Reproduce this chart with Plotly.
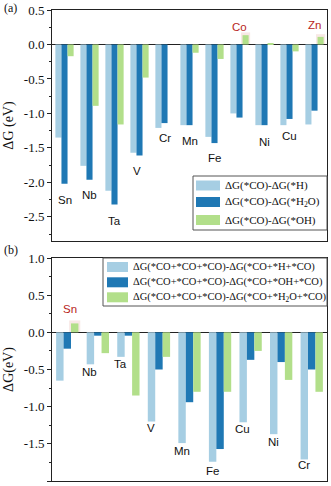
import plotly.graph_objects as go
from plotly.subplots import make_subplots

# ---- panel (a): dG(*CO) differences
metals_a = ["Sn", "Nb", "Ta", "V", "Cr", "Mn", "Fe", "Co", "Ni", "Cu", "Zn"]
dg_h_a = [-1.35, -1.76, -2.12, -1.57, -1.21, -1.17, -1.34, -1.00, -1.17, -1.17, -1.16]
dg_h2o_a = [-2.02, -1.96, -2.32, -1.61, -1.14, -1.17, -1.43, -1.06, -1.17, -1.08, -0.96]
dg_oh_a = [-0.17, -0.89, -1.16, -0.48, 0.0, -0.12, -0.21, 0.135, 0.02, -0.10, 0.11]
names_a = ["ΔG(*CO)-ΔG(*H)", "ΔG(*CO)-ΔG(*H<sub>2</sub>O)", "ΔG(*CO)-ΔG(*OH)"]
yticks_a = [0.5, 0.0, -0.5, -1.0, -1.5, -2.0, -2.5]

# ---- panel (b): dG(*CO+*CO+*CO) differences
metals_b = ["Sn", "Nb", "Ta", "V", "Mn", "Fe", "Cu", "Ni", "Cr"]
dg_h_b = [-0.65, -0.43, -0.33, -1.20, -1.49, -1.74, -1.21, -1.37, -1.71]
dg_oh_b = [-0.22, -0.045, -0.045, -0.50, -0.94, -1.57, -0.37, -0.40, -0.50]
dg_h2o_b = [0.12, -0.28, -0.85, -0.33, -0.80, -0.80, -0.25, -0.64, -0.80]
names_b = ["ΔG(*CO+*CO+*CO)-ΔG(*CO+*H+*CO)",
           "ΔG(*CO+*CO+*CO)-ΔG(*CO+*OH+*CO)",
           "ΔG(*CO+*CO+*CO)-ΔG(*CO+*H<sub>2</sub>O+*CO)"]
yticks_b = [1.0, 0.5, 0.0, -0.5, -1.0, -1.5, -2.0]

# label placement (y in data units, x shift in px)
label_y_a = [-2.26, -2.19, -2.56, -1.83, -1.36, -1.40, -1.65, 0.26, -1.41, -1.32, 0.28]
label_dx_a = [0, 0, 0, -3, 0, 0, 0, 0, 0, 0, 0]
label_y_b = [0.31, -0.53, -0.42, -1.29, -1.59, -1.86, -1.30, -1.47, -1.78]
label_dx_b = [3, -8, -8, -8, -8, -8, -8, -8, -8]
red_a = {"Co", "Zn"}
red_b = {"Sn"}

colors = ["#a6cee3", "#1f78b4", "#b2df8a"]
RED = "#b8261c"
SERIF = "Liberation Serif, Times New Roman, serif"
SANS = "Liberation Sans, Arial, sans-serif"

W, H = 331, 486
L, R, T, B = 52, 4, 10, 5
BARGAP = 0.27


def px(x):
    return (x - L) / (W - L - R)


def py(y):
    return (H - B - y) / (H - T - B)


fig = make_subplots(rows=2, cols=1)

for vals, name, col in zip([dg_h_a, dg_h2o_a, dg_oh_a], names_a, colors):
    fig.add_trace(go.Bar(x=metals_a, y=vals, name=name, marker_color=col,
                         marker_line_width=0, showlegend=False), row=1, col=1)
for vals, name, col in zip([dg_h_b, dg_oh_b, dg_h2o_b], names_b, colors):
    fig.add_trace(go.Bar(x=metals_b, y=vals, name=name, marker_color=col,
                         marker_line_width=0, showlegend=False), row=2, col=1)

# faint highlight behind the positive green bars
bw = (1 - BARGAP) / 3
shapes = []
for xr, yr, vals in [("x", "y", dg_oh_a), ("x2", "y2", dg_h2o_b)]:
    for i, v in enumerate(vals):
        if v > 0.05:
            c = i + bw
            shapes.append(dict(type="rect", xref=xr, yref=yr,
                               x0=c - bw * 0.75, x1=c + bw * 0.75, y0=0, y1=v + 0.04,
                               fillcolor="rgba(235,190,180,0.35)", line_width=0,
                               layer="below"))

annotations = []
for m, yv, dx in zip(metals_a, label_y_a, label_dx_a):
    annotations.append(dict(x=m, y=yv, xref="x", yref="y", text=m, showarrow=False,
                            xshift=dx, font=dict(family=SANS, size=11.5,
                                                 color=RED if m in red_a else "#111")))
for m, yv, dx in zip(metals_b, label_y_b, label_dx_b):
    annotations.append(dict(x=m, y=yv, xref="x2", yref="y2", text=m, showarrow=False,
                            xshift=dx, font=dict(family=SANS, size=11.5,
                                                 color=RED if m in red_b else "#111")))


# hand-drawn legends (wide swatches like the original)
def add_legend(box, sw_x, rows, names, text_x, size):
    x0, y0, x1, y1 = box
    shapes.append(dict(type="rect", xref="paper", yref="paper",
                       x0=px(x0), x1=px(x1), y0=py(y1), y1=py(y0),
                       line=dict(color="#555", width=1), fillcolor="white", layer="above"))
    for yc, name, col in zip(rows, names, colors):
        shapes.append(dict(type="rect", xref="paper", yref="paper",
                           x0=px(sw_x[0]), x1=px(sw_x[1]), y0=py(yc + 5), y1=py(yc - 5),
                           line_width=0, fillcolor=col, layer="above"))
        annotations.append(dict(x=px(text_x), y=py(yc), xref="paper", yref="paper",
                                text=name, showarrow=False, xanchor="left", yanchor="middle",
                                font=dict(family=SERIF, size=size, color="#111")))


add_legend((193, 176, 327, 230), (196, 220), [185.5, 202, 220], names_a, 223, 11)
add_legend((103, 258, 327, 306), (107, 128), [267, 282.3, 297.3], names_b, 131, 10.5)

annotations.append(dict(x=px(2), y=py(8), xref="paper", yref="paper", text="(a)",
                        showarrow=False, xanchor="left", yanchor="middle",
                        font=dict(family=SERIF, size=12, color="#111")))
annotations.append(dict(x=px(2), y=py(250), xref="paper", yref="paper", text="(b)",
                        showarrow=False, xanchor="left", yanchor="middle",
                        font=dict(family=SERIF, size=12, color="#111")))

axis_common = dict(showline=True, linecolor="#222", linewidth=1, mirror=True,
                   showgrid=False, zeroline=False)
fig.update_xaxes(showticklabels=False, ticks="", **axis_common)
fig.update_yaxes(ticks="outside", ticklen=4, tickwidth=1, tickcolor="#222",
                 tickfont=dict(family=SERIF, size=13, color="#111"),
                 zeroline=True, zerolinecolor="#222", zerolinewidth=1,
                 minor=dict(ticks="outside", ticklen=2, tickcolor="#222", dtick=0.25),
                 showline=True, linecolor="#222", linewidth=1, mirror=True, showgrid=False)

fig.update_layout(
    width=W, height=H,
    margin=dict(l=L, r=R, t=T, b=B),
    plot_bgcolor="white", paper_bgcolor="white",
    barmode="group", bargap=BARGAP, bargroupgap=0,
    showlegend=False,
    xaxis=dict(domain=[0, 1], range=[-0.5, len(metals_a) - 0.5]),
    xaxis2=dict(domain=[0, 1], range=[-0.5, len(metals_b) - 0.5]),
    yaxis=dict(domain=[py(241), 1], range=[-2.85, 0.5],
               tickvals=yticks_a, ticktext=[f"{v:.1f}" for v in yticks_a],
               title=dict(text="ΔG (eV)", font=dict(family=SERIF, size=14, color="#111"),
                          standoff=6)),
    yaxis2=dict(domain=[0, py(258)], range=[-2.0, 1.0],
                tickvals=yticks_b, ticktext=[f"{v:.1f}" for v in yticks_b],
                title=dict(text="ΔG(eV)", font=dict(family=SERIF, size=14, color="#111"),
                           standoff=6)),
    shapes=shapes,
    annotations=annotations,
)

# the page body has a default 8px margin; drop it so the figure fills the window
fig.write_html("out.html", config={"displayModeBar": False},
               post_script="document.body.style.margin='0';")
